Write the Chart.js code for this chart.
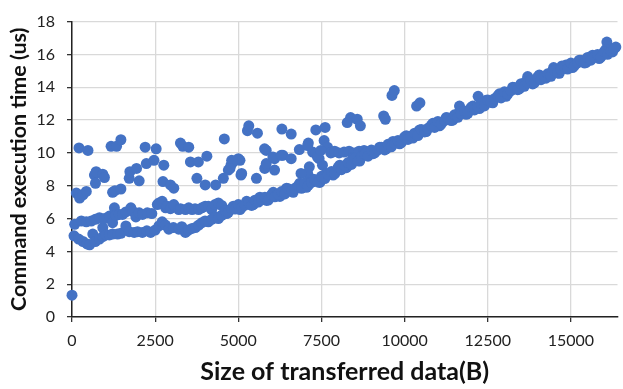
<!DOCTYPE html>
<html>
<head>
<meta charset="utf-8">
<title>Command execution time vs transfer size</title>
<script src="https://cdn.jsdelivr.net/npm/chart.js@4.4.0/dist/chart.umd.min.js"></script>
<style>
  body { margin: 0; background: #fff; }
  #wrap { width: 623px; height: 389px; }
</style>
</head>
<body>
<div id="wrap"><canvas id="chart" width="623" height="389"></canvas></div>
<script>
// main trend (sizes in bytes, times in us)
const mainSizeA = [4610, 4700, 4790, 4905, 5000, 5095, 5200, 5310, 5400, 5500, 5605, 5700, 5800, 5900,
  6000, 6100, 6200, 6300, 6400, 6500, 6600, 6700, 6800, 6900, 7000, 7100, 7200, 7300, 7400, 7500,
  7600, 7700, 7800, 7900, 8000, 8100, 8200, 8300, 8400, 8500, 8600, 8700, 8800, 8900, 9000, 9100,
  9200, 9300, 9400, 9500, 9600, 9700, 9800, 9900, 10000, 10100, 10200, 10300, 10400, 10500, 10600,
  10700, 10800, 10900, 11000, 11100, 11200, 11300, 11400, 11500, 11600, 11700, 11800, 11900, 12000,
  12100, 12200, 12300, 12400, 12500, 12600, 12700, 12800, 12900, 13000, 13100, 13200, 13300, 13400,
  13500, 13600, 13700, 13800, 13900, 14000, 14100, 14200, 14300, 14400, 14500, 14600, 14700, 14800,
  14900, 15000, 15100, 15200, 15300, 15400, 15500, 15600, 15700, 15800, 15900, 16000, 16100, 16200, 16300];
const mainTimeA = [6.5, 6.38, 6.6, 6.58, 6.85, 6.66, 6.82, 6.96, 6.8, 7.12, 7.0, 7.14, 7.3, 7.13,
  7.45, 7.32, 7.49, 7.64, 7.5, 7.82, 7.68, 7.84, 8.0, 7.84, 8.17, 8.02, 8.21, 8.37, 8.22, 8.57,
  8.44, 8.67, 8.86, 8.74, 9.12, 8.98, 9.22, 9.41, 9.3, 9.67, 9.52, 9.75, 9.93, 9.8, 10.17, 10.0,
  10.19, 10.34, 10.18, 10.52, 10.37, 10.58, 10.75, 10.62, 10.97, 10.82, 11.03, 11.2, 11.06, 11.42, 11.28,
  11.5, 11.68, 11.55, 11.92, 11.76, 11.96, 12.12, 11.97, 12.32, 12.17, 12.38, 12.55, 12.41, 12.77,
  12.62, 12.83, 13.0, 12.86, 13.22, 13.08, 13.3, 13.48, 13.35, 13.72, 13.58, 13.8, 13.98, 13.85,
  14.22, 14.06, 14.26, 14.42, 14.27, 14.62, 14.46, 14.66, 14.82, 14.67, 15.02, 14.87, 15.08, 15.25,
  15.11, 15.47, 15.3, 15.49, 15.64, 15.48, 15.82, 15.65, 15.84, 15.99, 15.83, 16.17, 16.01, 16.2, 16.36];

const mainSizeB = [4650, 4850, 5050, 5250, 5450, 5650, 5850, 6050, 6250, 6450, 6650, 6850, 7050, 7250,
  7450, 7650, 7850, 8050, 8250, 8450, 8650, 8850, 9050, 9250, 9450, 9650, 9850, 10050, 10250, 10450,
  10650, 10850, 11050, 11250, 11450, 11650, 11850, 12050, 12250, 12450, 12650, 12850, 13050, 13250,
  13450, 13650, 13850, 14050, 14250, 14450, 14650, 14850, 15050, 15250, 15450, 15650, 15850, 16050, 16250, 16350];
const mainTimeB = [6.3, 6.75, 6.55, 7.05, 6.85, 7.3, 7.1, 7.6, 7.35, 7.85, 7.6, 8.15, 7.9, 8.4,
  8.2, 8.75, 8.65, 9.25, 9.1, 9.7, 9.5, 10.05, 9.95, 10.35, 10.25, 10.7, 10.55, 11.05, 10.9, 11.4,
  11.3, 11.8, 11.65, 12.15, 12.0, 12.5, 12.35, 12.85, 12.7, 13.2, 13.05, 13.6, 13.45, 14.0,
  13.9, 14.35, 14.2, 14.7, 14.55, 15.0, 14.85, 15.35, 15.2, 15.65, 15.5, 15.95, 15.75, 16.3, 16.15, 16.45];

// small transfers: lower strand and the ~6 us strand
const lowSize = [60, 200, 330, 450, 530, 625, 700, 825, 925, 1025, 1125, 1220, 1370, 1470, 1620, 1720,
  1870, 1970, 2115, 2250, 2365, 2500, 2615, 2710, 2810, 2910, 3050, 3210, 3300, 3410, 3500, 3610,
  3710, 3810, 3905, 4000, 4100, 4200, 4300, 4400, 4500];
const lowTime = [4.95, 4.75, 4.6, 4.45, 4.4, 5.05, 4.6, 4.75, 4.9, 5.0, 5.0, 5.05, 5.05, 5.1, 5.55, 5.2,
  5.15, 5.2, 5.15, 5.25, 5.15, 5.3, 5.55, 5.8, 5.6, 5.35, 5.45, 5.35, 5.5, 5.15, 5.3, 5.4,
  5.45, 5.6, 5.75, 5.85, 5.8, 5.95, 6.1, 6.0, 6.2];

const midSize = [80, 280, 430, 580, 700, 825, 925, 975, 1125, 1220, 1275, 1320, 1420, 1520, 1620, 1770,
  1820, 1920, 2020, 2120, 2265, 2400, 2565, 2615, 2710, 2815, 2865, 2960, 3060, 3210, 3260, 3410,
  3510, 3610, 3700, 3805, 3905, 4005, 4100, 4200, 4300, 4400, 4500];
const midTime = [5.65, 5.85, 5.8, 5.85, 5.95, 6.05, 5.45, 6.0, 6.15, 5.75, 6.65, 6.2, 6.25, 6.25, 6.4, 6.65,
  6.45, 6.1, 6.35, 6.25, 6.35, 6.3, 6.85, 6.95, 7.05, 6.65, 6.75, 6.6, 6.85, 6.55, 6.6, 6.55,
  6.65, 6.55, 6.6, 6.55, 6.65, 6.75, 6.75, 6.55, 6.85, 6.95, 6.8];

// scattered slow commands
const outSize = [0, 130, 230, 330, 430, 675, 705, 725, 925, 975, 1220, 1290, 1470, 1720, 1740, 1940,
  2020, 2235, 2465, 2760, 2735, 2960, 3060, 3560, 3800, 4055, 3755, 4005, 4320, 4550, 4700, 4780,
  4800, 5050, 5080, 5545, 5795, 6090, 6090, 6340, 6590, 7135, 7085, 7235, 7330, 7430, 7530, 5840,
  6885, 210, 480, 1175, 1340, 1470, 2200, 2530, 3260, 3330, 3510, 4580, 5275, 5315, 5575, 5840,
  6310, 6590, 6835, 7105, 7330, 7610, 7580, 7680, 7830, 7085, 5790, 6040, 6290, 7380, 5000, 4850,
  4750, 5100, 8375, 8575, 8670, 8275, 9370, 9420, 9620, 9690, 10360, 10460, 7480, 7780, 7900, 8030,
  8180, 8330, 8480, 8630, 8780, 11650, 12210, 13700, 14050, 14480, 14730, 16080];
const outTime = [1.33, 7.55, 7.25, 7.45, 7.65, 8.65, 8.15, 8.85, 8.7, 8.5, 7.6, 7.7, 7.8, 8.45, 8.85, 9.05,
  8.3, 9.35, 9.55, 9.25, 8.25, 8.05, 7.85, 9.45, 9.45, 9.8, 8.45, 8.05, 8.05, 8.45, 8.95, 9.25,
  9.55, 9.55, 8.65, 8.45, 9.05, 9.65, 8.95, 9.85, 9.65, 9.15, 8.75, 10.05, 9.95, 9.65, 9.25, 9.35,
  8.75, 10.3, 10.15, 10.4, 10.4, 10.8, 10.35, 10.25, 10.6, 10.4, 10.35, 10.85, 11.35, 11.65, 11.2, 10.15,
  11.45, 11.15, 10.2, 10.6, 11.4, 11.55, 10.75, 10.35, 10.05, 10.45, 10.25, 9.75, 9.85, 9.75, 9.65, 9.45,
  9.05, 8.75, 12.15, 12.05, 11.65, 11.85, 12.25, 12.05, 13.5, 13.8, 12.85, 13.05, 10.15, 10.0, 10.1, 10.0,
  10.05, 10.1, 10.0, 10.1, 10.15, 12.85, 13.45, 14.65, 14.75, 15.2, 15.3, 16.75];

const xTicks = [0, 2500, 5000, 7500, 10000, 12500, 15000];
const yTicks = [0, 2, 4, 6, 8, 10, 12, 14, 16, 18];

function toPoints(xs, ys) {
  return xs.map((x, i) => ({ x: x, y: ys[i] }));
}

const blue = '#4472C4';
const groups = [[mainSizeA, mainTimeA], [mainSizeB, mainTimeB], [lowSize, lowTime], [midSize, midTime], [outSize, outTime]];
const datasets = groups.map(g => ({
  data: toPoints(g[0], g[1]),
  backgroundColor: blue,
  borderColor: blue,
  borderWidth: 0,
  pointRadius: 5.5,
  pointHoverRadius: 5.5,
  clip: false
}));

const fontFam = 'Lato, "Open Sans", sans-serif';

new Chart(document.getElementById('chart'), {
  type: 'scatter',
  data: { datasets: datasets },
  options: {
    responsive: false,
    animation: false,
    layout: { padding: { top: 15, right: 0, left: 0, bottom: 0 } },
    plugins: { legend: { display: false }, tooltip: { enabled: false } },
    scales: {
      x: {
        type: 'linear',
        min: 0,
        max: 16400,
        afterFit: s => { s.height = 72; },
        afterBuildTicks: s => { s.ticks = xTicks.map(v => ({ value: v })); },
        ticks: { color: '#222', padding: 9, autoSkip: false, maxRotation: 0,
          font: { family: fontFam, size: 16 }, callback: v => String(v) },
        grid: { color: '#d9d9d9', lineWidth: 1.3, tickColor: '#333', tickLength: 5 },
        border: { color: '#222', width: 1.5 },
        title: { display: true, text: 'Size of transferred data(B)', color: '#111',
          font: { family: fontFam, size: 25, weight: 'bold' }, padding: { top: 0, bottom: 2 } }
      },
      y: {
        min: 0,
        max: 18,
        afterFit: s => { s.width = 72; },
        afterBuildTicks: s => { s.ticks = yTicks.map(v => ({ value: v })); },
        ticks: { color: '#222', padding: 12, font: { family: fontFam, size: 16 } },
        grid: { color: '#d9d9d9', lineWidth: 1.3, tickColor: '#333', tickLength: 5 },
        border: { color: '#222', width: 1.5 },
        title: { display: true, text: 'Command execution time (us)', color: '#111',
          font: { family: fontFam, size: 21.5, weight: 'bold' }, padding: { top: 6, bottom: 0 } }
      }
    }
  }
});
</script>
</body>
</html>
